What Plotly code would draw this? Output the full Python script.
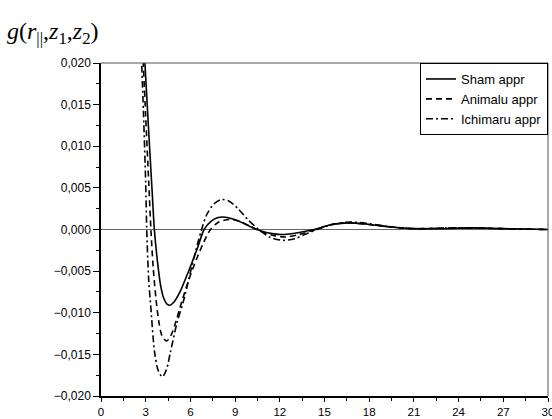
import plotly.graph_objects as go

# Sham approximation (solid)
sham_x = [2.90, 3.20, 3.45, 3.58, 3.80, 4.00, 4.20, 4.45, 4.62, 4.90, 5.30, 5.70, 6.10, 6.50, 6.92, 7.40,
          7.80, 8.20, 8.80, 9.50, 10.20, 10.80, 11.50, 12.30, 13.20, 14.30, 15.50, 16.70, 18.00, 19.50,
          21.00, 23.00, 25.00, 27.00, 30.00]
sham_y = [0.0215, 0.0118, 0.0040, 0.0000, -0.0040, -0.0067, -0.0082, -0.0090, -0.0091, -0.0087, -0.0075,
          -0.0058, -0.0040, -0.0021, 0.0000, 0.0010, 0.0014, 0.0015, 0.0013, 0.0008, 0.0002, -0.0002,
          -0.0005, -0.0006, -0.0004, 0.0000, 0.0006, 0.0008, 0.0006, 0.0003, 0.0001, 0.0001, 0.0002,
          0.0001, 0.0000]

# Animalu approximation (dashed)
anim_x = [2.80, 3.00, 3.20, 3.35, 3.50, 3.70, 3.90, 4.10, 4.40, 4.70, 5.00, 5.40, 5.90, 6.40, 6.90, 7.35,
          7.90, 8.60, 9.30, 10.00, 10.70, 11.50, 12.40, 13.30, 14.40, 15.50, 16.70, 18.00, 19.50, 21.00,
          24.00, 27.00, 30.00]
anim_y = [0.0215, 0.0135, 0.0058, 0.0000, -0.0045, -0.0085, -0.0113, -0.0128, -0.0134, -0.0127, -0.0112,
          -0.0088, -0.0060, -0.0036, -0.0015, 0.0000, 0.0009, 0.0012, 0.0010, 0.0004, -0.0002, -0.0007,
          -0.0009, -0.0006, 0.0000, 0.0006, 0.0008, 0.0006, 0.0003, 0.0001, 0.0002, 0.0001, 0.0000]

# Ichimaru approximation (dash-dot)
ichi_x = [2.70, 2.85, 3.00, 3.07, 3.20, 3.35, 3.60, 3.85, 4.12, 4.40, 4.65, 5.10, 5.55, 6.10, 6.50, 6.75,
          7.10, 7.60, 8.10, 8.60, 9.20, 9.90, 10.60, 11.30, 12.20, 13.00, 13.80, 14.50, 15.50, 16.70,
          18.00, 19.50, 21.00, 24.00, 27.00, 30.00]
ichi_y = [0.0215, 0.0140, 0.0055, 0.0000, -0.0060, -0.0095, -0.0148, -0.0170, -0.0177, -0.0168, -0.0148,
          -0.0112, -0.0085, -0.0044, -0.0016, 0.0000, 0.0018, 0.0031, 0.0036, 0.0034, 0.0025, 0.0011,
          0.0000, -0.0009, -0.0013, -0.0011, -0.0005, 0.0000, 0.0006, 0.0009, 0.0007, 0.0003, 0.0001,
          0.0002, 0.0001, 0.0000]

x_ticks = [0, 3, 6, 9, 12, 15, 18, 21, 24, 27, 30]
y_ticks = [-0.020, -0.015, -0.010, -0.005, 0.000, 0.005, 0.010, 0.015, 0.020]

fig = go.Figure()
fig.add_trace(go.Scatter(x=sham_x, y=sham_y, mode="lines", name="Sham appr",
                         line=dict(color="black", width=1.6, shape="spline", smoothing=0.8)))
fig.add_trace(go.Scatter(x=anim_x, y=anim_y, mode="lines", name="Animalu appr",
                         line=dict(color="black", width=1.6, dash="6px,4px", shape="spline", smoothing=0.8)))
fig.add_trace(go.Scatter(x=ichi_x, y=ichi_y, mode="lines", name="Ichimaru appr",
                         line=dict(color="black", width=1.6, dash="7px,3px,2px,3px", shape="spline", smoothing=0.8)))

axis_font = dict(family="Liberation Sans, Arial, sans-serif", size=12, color="black")
xaxis_font = dict(family="Liberation Sans, Arial, sans-serif", size=11.5, color="black")

fig.update_layout(
    width=552, height=419,
    margin=dict(l=101, r=4, t=63, b=23),
    paper_bgcolor="white", plot_bgcolor="white",
    separators=", ",
    showlegend=True,
    legend=dict(x=1, xanchor="right", y=1, yanchor="top",
                bordercolor="black", borderwidth=1, bgcolor="white",
                font=dict(family="Liberation Sans, Arial, sans-serif", size=13, color="black"),
                tracegroupgap=0, itemwidth=30),
    title=dict(text="<i>g</i>(<i>r</i><sub>||</sub>,<i>z</i><sub>1</sub>,<i>z</i><sub>2</sub>)",
               x=7 / 552, xanchor="left", xref="container",
               y=1 - 22 / 419, yanchor="top", yref="container",
               font=dict(family="Liberation Serif, Times New Roman, serif", size=24, color="black")),
    shapes=[
        dict(type="line", xref="paper", yref="paper", x0=0, x1=1, y0=1, y1=1,
             line=dict(color="#555555", width=1)),
        dict(type="line", xref="paper", yref="paper", x0=1, x1=1, y0=0, y1=1,
             line=dict(color="#555555", width=1)),
    ],
)

fig.update_xaxes(range=[0, 30], tickvals=x_ticks, ticktext=[str(v) for v in x_ticks],
                 showgrid=False, zeroline=False, showline=True, linecolor="black", linewidth=1.5,
                 ticks="outside", ticklen=4, tickwidth=1.2, tickcolor="black",
                 ticklabeloverflow="allow", automargin=False, ticklabelstandoff=0,
                 minor=dict(dtick=1.5, ticks="outside", ticklen=3, tickcolor="black", showgrid=False),
                 tickfont=xaxis_font)
fig.update_yaxes(range=[-0.020, 0.020], tickvals=y_ticks, tickformat=".3f",
                 showgrid=False, zeroline=True, zerolinecolor="#666666", zerolinewidth=1,
                 showline=True, linecolor="black", linewidth=1.5, automargin=False,
                 ticks="outside", ticklen=6, tickwidth=1.2, tickcolor="black",
                 minor=dict(dtick=0.0025, ticks="outside", ticklen=3, tickcolor="black", showgrid=False),
                 tickfont=axis_font)

fig.write_html("out.html", config={"displayModeBar": False},
               post_script="document.body.style.margin='0';document.body.style.overflow='hidden';")
